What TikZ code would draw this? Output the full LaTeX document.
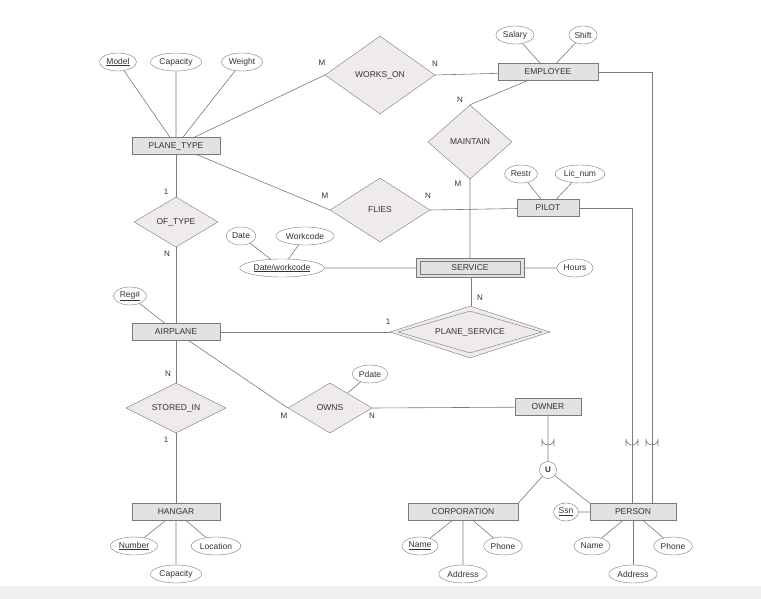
\documentclass[tikz,border=0pt]{standalone}
\usepackage{fontspec}
\setmainfont{Liberation Sans}
\usetikzlibrary{shapes.geometric,shapes.misc,calc}
\definecolor{ln}{HTML}{7A7A7A}
\definecolor{ent}{HTML}{E2E2E2}
\definecolor{rel}{HTML}{EEEBEA}
\begin{document}
\begin{tikzpicture}[x=1pt,y=-1pt,
  every node/.style={font=\fontsize{8.5}{10}\selectfont, text=black!80},
  ent/.style={draw=ln,fill=ent,minimum height=17,inner sep=1pt},
  att/.style={draw=ln,ellipse,fill=white,minimum height=18,inner sep=1.5pt},
  rel/.style={draw=ln,diamond,fill=rel,inner sep=0pt,aspect=2},
  lab/.style={font=\fontsize{8}{9}\selectfont,inner sep=0pt},
  c/.style={draw=ln,line width=0.6pt}]
\fill[white] (0,0) rectangle (761,599);
\fill[black!6] (0,586) rectangle (761,599);
\useasboundingbox (0,0) rectangle (761,599);
% entities
\node[ent,minimum width=88] (pt) at (176,146) {PLANE\_TYPE};
\node[ent,minimum width=100] (emp) at (548,72) {EMPLOYEE};
\node[ent,minimum width=62] (pil) at (548,208) {PILOT};
\node[ent,minimum width=108,minimum height=19] (srv) at (470,268) {};
\node[draw=ln,minimum width=100,minimum height=13,inner sep=0pt] (srvi) at (470,268) {SERVICE};
\node[ent,minimum width=88] (air) at (176,332) {AIRPLANE};
\node[ent,minimum width=66] (own) at (548,407) {OWNER};
\node[ent,minimum width=88] (han) at (176,512) {HANGAR};
\node[ent,minimum width=110] (cor) at (463,512) {CORPORATION};
\node[ent,minimum width=86] (per) at (633,512) {PERSON};
% relationships
\node[rel,minimum width=110,minimum height=78,aspect=1.4] (wo) at (380,75) {WORKS\_ON};
\node[rel,minimum width=84,minimum height=74,aspect=1.1] (mt) at (470,142) {MAINTAIN};
\node[rel,minimum width=100,minimum height=64,aspect=1.5] (fl) at (380,210) {FLIES};
\node[rel,minimum width=84,minimum height=50,aspect=1.7] (ot) at (176,222) {OF\_TYPE};
\node[rel,minimum width=160,minimum height=52,aspect=3] (ps) at (470,332) {};
\node[draw=ln,diamond,aspect=3,minimum width=144,minimum height=42,inner sep=0pt] (psi) at (470,332) {PLANE\_SERVICE};
\node[rel,minimum width=100,minimum height=50,aspect=2] (si) at (176,408) {STORED\_IN};
\node[rel,minimum width=84,minimum height=50,aspect=1.7] (ow) at (330,408) {OWNS};
\node[draw=ln,circle,fill=white,minimum size=17,inner sep=0pt,font=\fontsize{8}{9}\selectfont\bfseries] (u) at (548,470) {U};
% attributes
\node[att] (model) at (118,62) {\underline{Model}};
\node[att] (cap) at (176,62) {Capacity};
\node[att] (wt) at (242,62) {Weight};
\node[att] (sal) at (515,35) {Salary};
\node[att] (sh) at (583,35) {Shift};
\node[att] (rs) at (521,174) {Restr};
\node[att] (lic) at (580,174) {Lic\_num};
\node[att] (dt) at (241,236) {Date};
\node[att] (wc) at (305,236) {Workcode};
\node[att] (dw) at (282,268) {\underline{Date/workcode}};
\node[att] (hr) at (575,268) {Hours};
\node[att] (reg) at (130,296) {\underline{Reg\#}};
\node[att] (pd) at (370,374) {Pdate};
\node[att] (hn) at (134,546) {\underline{Number}};
\node[att] (hl) at (216,546) {Location};
\node[att] (hc) at (176,574) {Capacity};
\node[att] (cn) at (420,546) {\underline{Name}};
\node[att] (cp) at (503,546) {Phone};
\node[att] (ca) at (463,574) {Address};
\node[att] (ssn) at (566,512) {\underline{Ssn}};
\node[att] (pn) at (592,546) {Name};
\node[att] (pp) at (673,546) {Phone};
\node[att] (pa) at (633,574) {Address};
% connectors
\begin{scope}[on background layer/.style={}]
\end{scope}
\draw[c] (model) -- (pt) (cap) -- (pt) (wt) -- (pt);
\draw[c] (pt) -- (wo.west) (wo.east) -- (emp);
\draw[c] (sal) -- (emp) (sh) -- (emp);
\draw[c] (emp) -- (mt.north) (mt.south) -- (srv.north);
\draw[c] (pt) -- (fl.west) (fl.east) -- (pil);
\draw[c] (rs) -- (pil) (lic) -- (pil);
\draw[c] (pt) -- (ot.north) (ot.south) -- (air);
\draw[c] (dt) -- (dw) (wc) -- (dw) (dw) -- (srv.west) (srv.east) -- (hr);
\draw[c,double=white,double distance=2pt,line width=0.5pt] (srv.south) -- (ps.north);
\draw[c] (air) -- (ps.west);
\draw[c] (reg) -- (air);
\draw[c] (air) -- (si.north) (si.south) -- (han);
\draw[c] (air) -- (ow.west) (ow.east) -- (own);
\draw[c] (pd) -- (ow);
\draw[c] (own) -- (u) (u) -- (cor.north east) (u) -- (per.north west);
\draw[c] (hn) -- (han) (hl) -- (han) (hc) -- (han);
\draw[c] (cn) -- (cor) (cp) -- (cor) (ca) -- (cor);
\draw[c] (ssn) -- (per) (pn) -- (per) (pp) -- (per);
\coordinate (p1) at (632,208); \coordinate (p2) at (652,72);
\draw[c] (pil.east) -- (p1) -- (p1 |- per.north);
\draw[c] (emp.east) -- (p2) -- (p2 |- per.north);
\draw[c] (pa) -- (pa |- per.south);
\foreach \x in {548,632,652}{
  \draw[c] (\x-6,446) -- (\x-6,439) arc[start angle=180,end angle=0,radius=6] -- (\x+6,446);}
% cardinalities
\node[lab] at (322,63) {M}; \node[lab] at (435,64) {N};
\node[lab] at (460,100) {N}; \node[lab] at (458,184) {M};
\node[lab] at (325,196) {M}; \node[lab] at (428,196) {N};
\node[lab] at (166,192) {1}; \node[lab] at (167,254) {N};
\node[lab] at (388,322) {1}; \node[lab] at (480,298) {N};
\node[lab] at (168,374) {N}; \node[lab] at (166,440) {1};
\node[lab] at (284,416) {M}; \node[lab] at (372,416) {N};
\end{tikzpicture}
\end{document}
